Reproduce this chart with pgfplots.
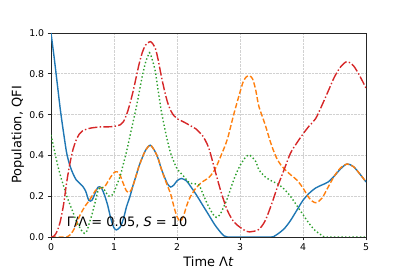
\documentclass[border=0pt]{standalone}
\usepackage{pgfplots}
\pgfplotsset{compat=1.18}
\usepackage{fontspec}
\setmainfont{DejaVu Sans}
\definecolor{tabblue}{HTML}{1F77B4}
\definecolor{taborange}{HTML}{FF7F0E}
\definecolor{tabgreen}{HTML}{2CA02C}
\definecolor{tabred}{HTML}{D62728}
\begin{document}
\begin{tikzpicture}
\begin{axis}[
  width=315bp, height=204bp, scale only axis,
  xmin=0, xmax=5, ymin=0, ymax=1,
  xtick={0,1,2,3,4,5}, ytick={0,0.2,0.4,0.6,0.8,1},
  yticklabel style={/pgf/number format/.cd, fixed, fixed zerofill, precision=1},
  /pgf/number format/assume math mode=true,
  tick label style={font=\fontsize{9.4}{11}\selectfont},
  xlabel={Time Λ\textit{t}},
  ylabel={Population, QFI},
  every axis x label/.style={at={(axis description cs:0.5,-0.147)}, anchor=base, font=\fontsize{13}{15}\selectfont},
  every axis y label/.style={at={(axis description cs:-0.105,0.5)}, rotate=90, anchor=center, font=\fontsize{13}{15}\selectfont},
  grid=major,
  major grid style={black!18, densely dotted, line width=0.6bp},
  tick align=outside, tick pos=left, major tick length=3.3bp,
  axis line style={line width=0.8bp, black!85},
  every tick/.style={black!85, line width=0.8bp},
  every axis plot/.append style={line width=1.4bp, smooth, tension=0.5},
]
\coordinate (sw) at (rel axis cs:0,0);
\coordinate (ne) at (rel axis cs:1,1);
% blue solid
\addplot[tabblue] coordinates {
(0,1.0)(0.05,0.88)(0.1,0.75)(0.15,0.62)(0.2,0.51)(0.25,0.41)(0.3,0.35)(0.35,0.31)(0.4,0.28)(0.45,0.265)(0.5,0.25)(0.55,0.225)(0.6,0.18)(0.65,0.18)(0.7,0.215)(0.75,0.245)(0.8,0.24)(0.85,0.205)(0.9,0.155)(0.95,0.09)(1.0,0.045)(1.04,0.035)(1.1,0.05)(1.15,0.09)(1.2,0.15)(1.25,0.195)(1.3,0.25)(1.35,0.30)(1.4,0.35)(1.45,0.39)(1.5,0.425)(1.575,0.45)(1.65,0.42)(1.7,0.385)(1.75,0.335)(1.8,0.295)(1.85,0.26)(1.9,0.245)(1.95,0.255)(2.0,0.275)(2.07,0.287)(2.15,0.275)(2.2,0.255)(2.3,0.21)(2.4,0.16)(2.5,0.11)(2.6,0.06)(2.7,0.02)(2.75,0.005)(2.8,0)(3.0,0)(3.2,0)(3.5,0)(3.55,0.005)(3.6,0.015)(3.7,0.04)(3.8,0.08)(3.9,0.13)(4.0,0.18)(4.1,0.215)(4.2,0.24)(4.3,0.255)(4.4,0.27)(4.5,0.30)(4.6,0.335)(4.7,0.358)(4.8,0.345)(4.9,0.31)(5.0,0.27)
};
% orange dashed
\addplot[taborange, dash pattern=on 5.2bp off 2.3bp] coordinates {
(0,0)(0.1,0)(0.2,0)(0.25,0)(0.3,0.01)(0.35,0.03)(0.4,0.06)(0.45,0.1)(0.5,0.13)(0.55,0.155)(0.6,0.176)(0.65,0.20)(0.7,0.225)(0.75,0.24)(0.8,0.24)(0.85,0.245)(0.9,0.27)(0.95,0.295)(1.0,0.315)(1.05,0.32)(1.1,0.30)(1.15,0.26)(1.2,0.225)(1.25,0.22)(1.3,0.25)(1.35,0.30)(1.4,0.35)(1.45,0.39)(1.5,0.425)(1.575,0.45)(1.65,0.42)(1.7,0.385)(1.75,0.335)(1.8,0.29)(1.85,0.25)(1.9,0.21)(1.95,0.15)(2.0,0.10)(2.05,0.078)(2.1,0.10)(2.15,0.15)(2.2,0.19)(2.3,0.24)(2.4,0.27)(2.5,0.29)(2.6,0.33)(2.7,0.40)(2.8,0.48)(2.9,0.60)(3.0,0.71)(3.05,0.76)(3.1,0.785)(3.15,0.79)(3.2,0.775)(3.25,0.72)(3.3,0.64)(3.4,0.55)(3.5,0.45)(3.6,0.375)(3.7,0.335)(3.8,0.306)(3.9,0.28)(4.0,0.24)(4.1,0.19)(4.2,0.168)(4.3,0.19)(4.4,0.245)(4.5,0.30)(4.6,0.34)(4.7,0.358)(4.8,0.345)(4.9,0.31)(5.0,0.27)
};
% green dotted
\addplot[tabgreen, dash pattern=on 1.4bp off 2.3bp] coordinates {
(0,0.50)(0.05,0.43)(0.1,0.36)(0.15,0.30)(0.2,0.25)(0.25,0.20)(0.3,0.16)(0.35,0.12)(0.4,0.08)(0.45,0.05)(0.5,0.025)(0.53,0.018)(0.57,0.03)(0.6,0.06)(0.65,0.11)(0.7,0.17)(0.75,0.23)(0.8,0.245)(0.85,0.23)(0.9,0.205)(0.95,0.20)(1.0,0.22)(1.05,0.26)(1.1,0.30)(1.15,0.36)(1.2,0.42)(1.25,0.49)(1.3,0.56)(1.35,0.63)(1.4,0.71)(1.45,0.79)(1.5,0.855)(1.55,0.895)(1.575,0.90)(1.65,0.82)(1.7,0.72)(1.75,0.62)(1.8,0.54)(1.85,0.47)(1.9,0.41)(1.95,0.37)(2.0,0.335)(2.1,0.30)(2.2,0.265)(2.3,0.26)(2.35,0.255)(2.4,0.22)(2.5,0.15)(2.6,0.10)(2.65,0.10)(2.7,0.12)(2.8,0.19)(2.9,0.28)(3.0,0.35)(3.1,0.395)(3.16,0.40)(3.25,0.37)(3.3,0.33)(3.4,0.295)(3.5,0.275)(3.6,0.26)(3.7,0.235)(3.8,0.20)(3.9,0.155)(4.0,0.11)(4.1,0.065)(4.2,0.03)(4.3,0.008)(4.35,0)(4.6,0)(5.0,0)
};
% red dash-dot
\addplot[tabred, dash pattern=on 9bp off 2.3bp on 1.4bp off 2.3bp] coordinates {
(0,0)(0.05,0.005)(0.1,0.03)(0.15,0.08)(0.2,0.16)(0.25,0.27)(0.3,0.36)(0.35,0.43)(0.4,0.475)(0.45,0.505)(0.5,0.52)(0.6,0.532)(0.7,0.537)(0.8,0.54)(0.9,0.54)(1.0,0.542)(1.1,0.55)(1.15,0.565)(1.2,0.60)(1.25,0.65)(1.3,0.71)(1.35,0.78)(1.4,0.85)(1.45,0.905)(1.5,0.94)(1.575,0.958)(1.65,0.93)(1.7,0.87)(1.75,0.79)(1.8,0.72)(1.85,0.66)(1.9,0.62)(1.95,0.595)(2.0,0.58)(2.1,0.565)(2.2,0.548)(2.3,0.53)(2.35,0.515)(2.4,0.50)(2.5,0.44)(2.6,0.33)(2.7,0.22)(2.8,0.13)(2.9,0.075)(3.0,0.048)(3.1,0.028)(3.15,0.025)(3.2,0.027)(3.3,0.037)(3.4,0.08)(3.5,0.16)(3.6,0.25)(3.7,0.33)(3.8,0.41)(3.9,0.46)(4.0,0.505)(4.1,0.545)(4.2,0.58)(4.3,0.645)(4.4,0.715)(4.5,0.785)(4.6,0.835)(4.7,0.86)(4.8,0.84)(4.9,0.79)(5.0,0.73)
};
\node[anchor=base west, inner sep=0pt, font=\fontsize{13}{15}\selectfont] at (axis cs:0.25,0.052) {Γ/Λ = 0.05, \textit{S} = 10};
\end{axis}
\pgfresetboundingbox
\path ([xshift=-51bp,yshift=-34bp]sw) rectangle ([xshift=41bp,yshift=33bp]ne);
\end{tikzpicture}
\end{document}
